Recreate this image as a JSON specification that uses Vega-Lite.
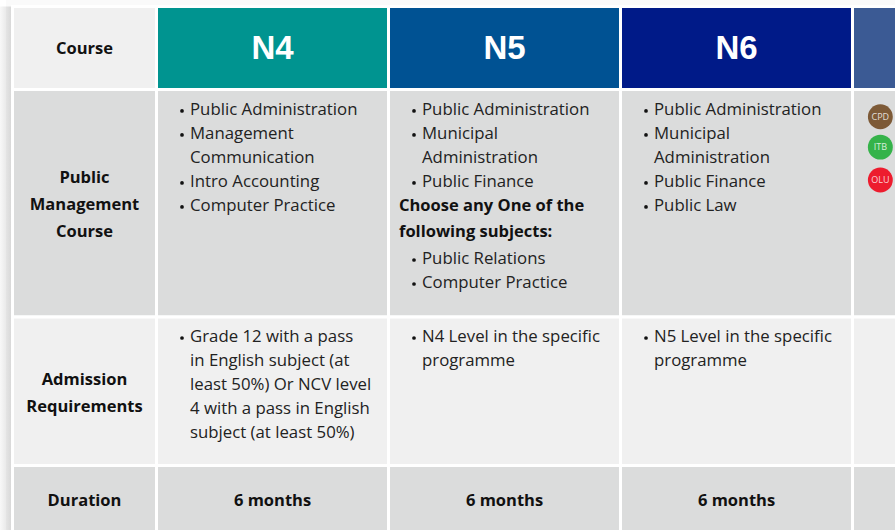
{"$schema":"https://vega.github.io/schema/vega-lite/v6.json","autosize":"none","width":895,"height":530,"padding":0,"background":"#ffffff","view":{"stroke":null},
"config":{"axis":{"disable":true},"legend":{"disable":true}},
"datasets":{
"frame":[{"column":0,"columnEnd":5,"row":0,"rowEnd":4}],
"shade":[{"column":-0.087,"columnEnd":0,"row":0,"rowEnd":4}],
"cells":[
{"column":0,"columnEnd":1,"row":0,"rowEnd":1,"kind":"light"},{"column":1,"columnEnd":2,"row":0,"rowEnd":1,"kind":"N4"},{"column":2,"columnEnd":3,"row":0,"rowEnd":1,"kind":"N5"},{"column":3,"columnEnd":4,"row":0,"rowEnd":1,"kind":"N6"},{"column":4,"columnEnd":5,"row":0,"rowEnd":1,"kind":"next"},
{"column":0,"columnEnd":1,"row":1,"rowEnd":2,"kind":"grey"},{"column":1,"columnEnd":2,"row":1,"rowEnd":2,"kind":"grey"},{"column":2,"columnEnd":3,"row":1,"rowEnd":2,"kind":"grey"},{"column":3,"columnEnd":4,"row":1,"rowEnd":2,"kind":"grey"},{"column":4,"columnEnd":5,"row":1,"rowEnd":2,"kind":"grey"},
{"column":0,"columnEnd":1,"row":2,"rowEnd":3,"kind":"light"},{"column":1,"columnEnd":2,"row":2,"rowEnd":3,"kind":"light"},{"column":2,"columnEnd":3,"row":2,"rowEnd":3,"kind":"light"},{"column":3,"columnEnd":4,"row":2,"rowEnd":3,"kind":"light"},{"column":4,"columnEnd":5,"row":2,"rowEnd":3,"kind":"light"},
{"column":0,"columnEnd":1,"row":3,"rowEnd":4,"kind":"grey"},{"column":1,"columnEnd":2,"row":3,"rowEnd":4,"kind":"grey"},{"column":2,"columnEnd":3,"row":3,"rowEnd":4,"kind":"grey"},{"column":3,"columnEnd":4,"row":3,"rowEnd":4,"kind":"grey"},{"column":4,"columnEnd":5,"row":3,"rowEnd":4,"kind":"grey"}],
"headers":[{"column":1.5,"line":2,"text":"N4"},{"column":2.5,"line":2,"text":"N5"},{"column":3.5,"line":2,"text":"N6"}],
"labels":[
{"column":0.5,"line":2,"text":"Course"},
{"column":0.5,"line":7.38,"text":"Public"},{"column":0.5,"line":8.5,"text":"Management"},{"column":0.5,"line":9.63,"text":"Course"},
{"column":0.5,"line":15.79,"text":"Admission"},{"column":0.5,"line":16.92,"text":"Requirements"},
{"column":0.5,"line":20.83,"text":"Duration"},
{"column":1.5,"line":20.83,"text":"6 months"},{"column":2.5,"line":20.83,"text":"6 months"},{"column":3.5,"line":20.83,"text":"6 months"}],
"bold":[{"column":2,"line":8.54,"text":"Choose any One of the"},{"column":2,"line":9.63,"text":"following subjects:"}],
"body":[
{"column":1,"line":4.54,"bullet":true,"text":"Public Administration"},
{"column":1,"line":5.54,"bullet":true,"text":"Management"},
{"column":1,"line":6.54,"bullet":false,"text":"Communication"},
{"column":1,"line":7.54,"bullet":true,"text":"Intro Accounting"},
{"column":1,"line":8.54,"bullet":true,"text":"Computer Practice"},
{"column":2,"line":4.54,"bullet":true,"text":"Public Administration"},
{"column":2,"line":5.54,"bullet":true,"text":"Municipal"},
{"column":2,"line":6.54,"bullet":false,"text":"Administration"},
{"column":2,"line":7.54,"bullet":true,"text":"Public Finance"},
{"column":2,"line":10.75,"bullet":true,"text":"Public Relations"},
{"column":2,"line":11.75,"bullet":true,"text":"Computer Practice"},
{"column":3,"line":4.54,"bullet":true,"text":"Public Administration"},
{"column":3,"line":5.54,"bullet":true,"text":"Municipal"},
{"column":3,"line":6.54,"bullet":false,"text":"Administration"},
{"column":3,"line":7.54,"bullet":true,"text":"Public Finance"},
{"column":3,"line":8.54,"bullet":true,"text":"Public Law"},
{"column":1,"line":14,"bullet":true,"text":"Grade 12 with a pass"},
{"column":1,"line":15,"bullet":false,"text":"in English subject (at"},
{"column":1,"line":16,"bullet":false,"text":"least 50%) Or NCV level"},
{"column":1,"line":17,"bullet":false,"text":"4 with a pass in English"},
{"column":1,"line":18,"bullet":false,"text":"subject (at least 50%)"},
{"column":2,"line":14,"bullet":true,"text":"N4 Level in the specific"},
{"column":2,"line":15,"bullet":false,"text":"programme"},
{"column":3,"line":14,"bullet":true,"text":"N5 Level in the specific"},
{"column":3,"line":15,"bullet":false,"text":"programme"}],
"badges":[{"column":4.12,"line":4.82,"text":"CPD"},{"column":4.12,"line":6.09,"text":"ITB"},{"column":4.12,"line":7.46,"text":"OLU"}]
},
"resolve":{"scale":{"y":"independent"}},
"layer":[
{"layer":[
{"data":{"name":"shade"},"mark":{"type":"rect","clip":true,"fill":{"gradient":"linear","x1":0,"x2":1,"y1":0,"y2":0,"stops":[{"offset":0,"color":"#f8f8f8"},{"offset":1,"color":"#dadada"}]}},
 "encoding":{"x":{"field":"column","type":"quantitative","axis":null,"scale":{"domain":[0,1,2,3,4,5],"range":[12.5,156.5,388.5,620.5,852.5,1084.5]}},"x2":{"field":"columnEnd"},"y":{"field":"row","type":"quantitative","axis":null,"scale":{"domain":[0,1,2,3,4],"range":[6.5,89.5,317,465.5,600]}},"y2":{"field":"rowEnd"}}},
{"data":{"name":"frame"},"mark":{"type":"rect","filled":false,"stroke":"#000000","strokeOpacity":0.02,"strokeWidth":13,"clip":true},
 "encoding":{"x":{"field":"column","type":"quantitative"},"x2":{"field":"columnEnd"},"y":{"field":"row","type":"quantitative"},"y2":{"field":"rowEnd"}}},
{"data":{"name":"cells"},"mark":{"type":"rect","stroke":"#ffffff","strokeWidth":3,"clip":true},
 "encoding":{"x":{"field":"column","type":"quantitative"},"x2":{"field":"columnEnd"},"y":{"field":"row","type":"quantitative"},"y2":{"field":"rowEnd"},
 "fill":{"field":"kind","type":"nominal","legend":null,"scale":{"domain":["light","grey","N4","N5","N6","next","CPD","ITB","OLU"],"range":["#f0f0f0","#dbdcdc","#009490","#005293","#001a88","#3b5a94","#7d5a37","#35b34a","#ed1c2e"]}}}}
]},
{"layer":[
{"data":{"name":"headers"},"mark":{"type":"text","font":"Liberation Sans","fontWeight":"bold","fontSize":33,"fill":"#ffffff","align":"center","baseline":"middle"},
 "encoding":{"x":{"field":"column","type":"quantitative"},"y":{"field":"line","type":"quantitative","axis":null,"scale":{"domain":[0,22],"range":[1,529]}},"text":{"field":"text"}}},
{"data":{"name":"labels"},"mark":{"type":"text","font":"Open Sans","fontWeight":"bold","fontSize":16.5,"fill":"#111111","align":"center","baseline":"middle"},
 "encoding":{"x":{"field":"column","type":"quantitative"},"y":{"field":"line","type":"quantitative"},"text":{"field":"text"}}},
{"data":{"name":"bold"},"mark":{"type":"text","font":"Open Sans","fontWeight":"bold","fontSize":16.5,"fill":"#111111","align":"left","baseline":"middle","dx":10.5},
 "encoding":{"x":{"field":"column","type":"quantitative"},"y":{"field":"line","type":"quantitative"},"text":{"field":"text"}}},
{"data":{"name":"body"},"mark":{"type":"text","font":"Open Sans","fontSize":16.8,"fill":"#222222","align":"left","baseline":"middle","dx":33.5},
 "encoding":{"x":{"field":"column","type":"quantitative"},"y":{"field":"line","type":"quantitative"},"text":{"field":"text"}}},
{"data":{"name":"body"},"transform":[{"filter":"datum.bullet"}],"mark":{"type":"point","shape":"circle","filled":true,"fill":"#111111","opacity":1,"size":14,"xOffset":25.5,"yOffset":1},
 "encoding":{"x":{"field":"column","type":"quantitative"},"y":{"field":"line","type":"quantitative"}}},
{"data":{"name":"badges"},"mark":{"type":"point","shape":"circle","filled":true,"opacity":1,"size":620},
 "encoding":{"x":{"field":"column","type":"quantitative"},"y":{"field":"line","type":"quantitative"},
 "fill":{"field":"text","type":"nominal","legend":null,"scale":{"domain":["light","grey","N4","N5","N6","next","CPD","ITB","OLU"],"range":["#f0f0f0","#dbdcdc","#009490","#005293","#001a88","#3b5a94","#7d5a37","#35b34a","#ed1c2e"]}}}},
{"data":{"name":"badges"},"mark":{"type":"text","font":"Open Sans","fontSize":9,"fill":"#ffffff","fillOpacity":0.8,"align":"center","baseline":"middle"},
 "encoding":{"x":{"field":"column","type":"quantitative"},"y":{"field":"line","type":"quantitative"},"text":{"field":"text"}}}
]}
]}
